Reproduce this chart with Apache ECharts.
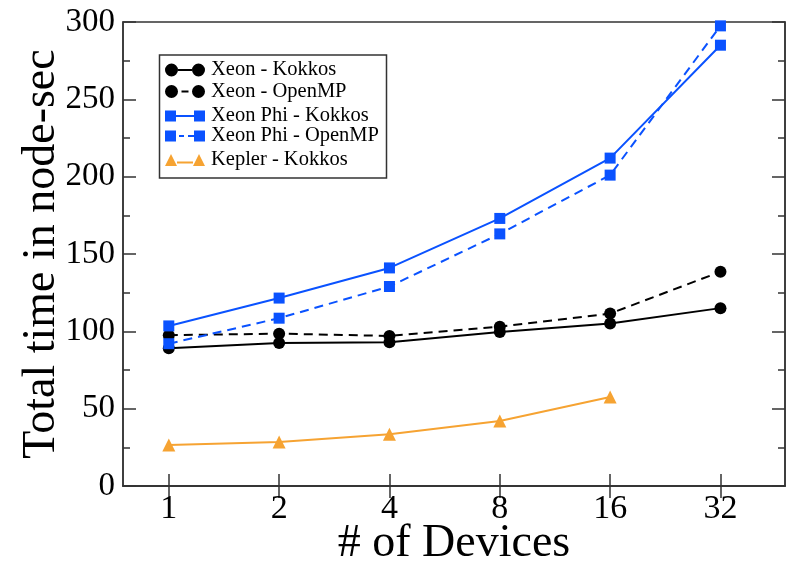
<!DOCTYPE html>
<html><head><meta charset="utf-8">
<script src="https://cdn.jsdelivr.net/npm/echarts@6/dist/echarts.min.js"></script>
<style>html,body{margin:0;padding:0;background:#fff}#c{width:788px;height:561px}</style>
</head><body><div id="c"></div>
<script>
const devices = [1, 2, 4, 8, 16, 32];
const seriesNames = ['Xeon - Kokkos', 'Xeon - OpenMP', 'Xeon Phi - Kokkos', 'Xeon Phi - OpenMP', 'Kepler - Kokkos'];
const xeonKokkos = [89, 92.5, 93, 99.5, 105, 115];
const xeonOpenMP = [97.5, 98.5, 97, 103, 111.5, 138.5];
const phiKokkos = [103.5, 121.5, 141, 173, 212, 285];
const phiOpenMP = [92, 108.5, 129, 163, 201, 297.5];
const keplerKokkos = [26.5, 28.5, 33.5, 42, 57.5];
const xLabels = ['1', '2', '4', '8', '16', '32'];
const yTicks = [0, 50, 100, 150, 200, 250, 300];

const FONT = '"Liberation Serif", "Times New Roman", serif';
const BLUE = '#0a52ff';
const ORANGE = '#f6a332';
const AX = '#333';

const pair = (xs, ys) => ys.map((v, i) => [xs[i], v]);

const icons = [
  'path://M0,6.5 A6.5,6.5 0 1 0 13,6.5 A6.5,6.5 0 1 0 0,6.5 Z M13,5.5 L27,5.5 L27,7.5 L13,7.5 Z M27,6.5 A6.5,6.5 0 1 0 40,6.5 A6.5,6.5 0 1 0 27,6.5 Z',
  'path://M0,6.5 A6.5,6.5 0 1 0 13,6.5 A6.5,6.5 0 1 0 0,6.5 Z M16.5,5.5 L23.5,5.5 L23.5,7.5 L16.5,7.5 Z M27,6.5 A6.5,6.5 0 1 0 40,6.5 A6.5,6.5 0 1 0 27,6.5 Z',
  'path://M0,1 L11,1 L11,12 L0,12 Z M11,5.5 L29,5.5 L29,7.5 L11,7.5 Z M29,1 L40,1 L40,12 L29,12 Z',
  'path://M0,1 L11,1 L11,12 L0,12 Z M14,5.5 L19,5.5 L19,7.5 L14,7.5 Z M23,5.5 L29,5.5 L29,7.5 L23,7.5 Z M29,1 L40,1 L40,12 L29,12 Z',
  'path://M0,12.5 L6,0.5 L12,12.5 Z M12,8 L28,8 L28,10 L12,10 Z M28,12.5 L34,0.5 L40,12.5 Z'
];
const legendCenters = [70, 91.5, 116, 136, 160];

const chart = echarts.init(document.getElementById('c'));
chart.setOption({
  backgroundColor: '#fff',
  animation: false,
  textStyle: { fontFamily: FONT, color: '#000' },
  grid: { left: 123, right: 3, top: 22, bottom: 75, show: true, borderColor: AX, borderWidth: 1.5, containLabel: false, outerBoundsMode: 'none' },
  legend: seriesNames.map((n, i) => ({
    data: [{ name: n, icon: icons[i] }],
    left: 165, top: legendCenters[i] - 10.5, padding: 0,
    itemWidth: 40, itemHeight: 13, itemGap: 0,
    itemStyle: { borderWidth: 0 },
    lineStyle: { width: 0 },
    textStyle: { fontFamily: FONT, fontSize: 20.5, color: '#000', padding: [0, 0, 0, 1] },
    selectedMode: false
  })),
  graphic: [{
    type: 'rect', shape: { x: 159.5, y: 55, width: 227, height: 123 },
    style: { fill: 'none', stroke: AX, lineWidth: 1.5 }, z: 10
  }],
  xAxis: [{
    type: 'log', logBase: 2, min: 0.75, max: 48, position: 'bottom',
    name: '# of Devices', nameLocation: 'middle', nameGap: 35, nameMoveOverlap: false,
    nameTextStyle: { fontFamily: FONT, fontSize: 46, color: '#000' },
    axisLine: { show: true, lineStyle: { color: AX, width: 1.5 } },
    axisTick: { show: true, inside: true, length: 12, customValues: devices, lineStyle: { color: AX, width: 1.5 } },
    axisLabel: { customValues: devices, formatter: v => xLabels[devices.indexOf(Math.round(v))] || '', fontFamily: FONT, fontSize: 34, color: '#000', margin: 6 },
    splitLine: { show: false }, minorTick: { show: false }
  }, {
    type: 'log', logBase: 2, min: 0.75, max: 48, position: 'top',
    axisLine: { show: true, lineStyle: { color: AX, width: 1.5 } },
    axisTick: { show: true, inside: true, length: 12, customValues: devices, lineStyle: { color: AX, width: 1.5 } },
    axisLabel: { show: false }, splitLine: { show: false }
  }],
  yAxis: [{
    type: 'value', min: 0, max: 300, interval: 50, position: 'left',
    name: 'Total time in node-sec', nameLocation: 'middle', nameGap: 58, nameRotate: 90, nameMoveOverlap: false,
    nameTextStyle: { fontFamily: FONT, fontSize: 46, color: '#000' },
    axisLine: { show: true, lineStyle: { color: AX, width: 1.5 } },
    axisTick: { show: true, inside: true, length: 13, lineStyle: { color: AX, width: 1.5 } },
    minorTick: { show: true, splitNumber: 2, length: 7, lineStyle: { color: AX, width: 1.5 } },
    axisLabel: { fontFamily: FONT, fontSize: 33, color: '#000', margin: 8, customValues: yTicks },
    splitLine: { show: false }, minorSplitLine: { show: false }
  }, {
    type: 'value', min: 0, max: 300, interval: 50, position: 'right',
    axisLine: { show: true, lineStyle: { color: AX, width: 1.5 } },
    axisTick: { show: true, inside: true, length: 13, lineStyle: { color: AX, width: 1.5 } },
    minorTick: { show: true, splitNumber: 2, length: 7, lineStyle: { color: AX, width: 1.5 } },
    axisLabel: { show: false }, splitLine: { show: false }
  }],
  series: [
    { name: seriesNames[0], type: 'line', data: pair(devices, xeonKokkos), symbol: 'circle', symbolSize: 12,
      itemStyle: { color: '#000', borderWidth: 0 }, lineStyle: { color: '#000', width: 2 }, z: 2 },
    { name: seriesNames[1], type: 'line', data: pair(devices, xeonOpenMP), symbol: 'circle', symbolSize: 12,
      itemStyle: { color: '#000', borderWidth: 0 }, lineStyle: { color: '#000', width: 2, type: [9, 6] }, z: 3 },
    { name: seriesNames[2], type: 'line', data: pair(devices, phiKokkos), symbol: 'rect', symbolSize: 11,
      itemStyle: { color: BLUE, borderWidth: 0 }, lineStyle: { color: BLUE, width: 2 }, z: 4 },
    { name: seriesNames[3], type: 'line', data: pair(devices, phiOpenMP), symbol: 'rect', symbolSize: 11,
      itemStyle: { color: BLUE, borderWidth: 0 }, lineStyle: { color: BLUE, width: 2, type: [9, 6] }, z: 5 },
    { name: seriesNames[4], type: 'line', data: pair(devices, keplerKokkos), symbol: 'triangle', symbolSize: 13,
      itemStyle: { color: ORANGE, borderWidth: 0 }, lineStyle: { color: ORANGE, width: 2 }, z: 6 }
  ]
});
</script>
</body></html>
